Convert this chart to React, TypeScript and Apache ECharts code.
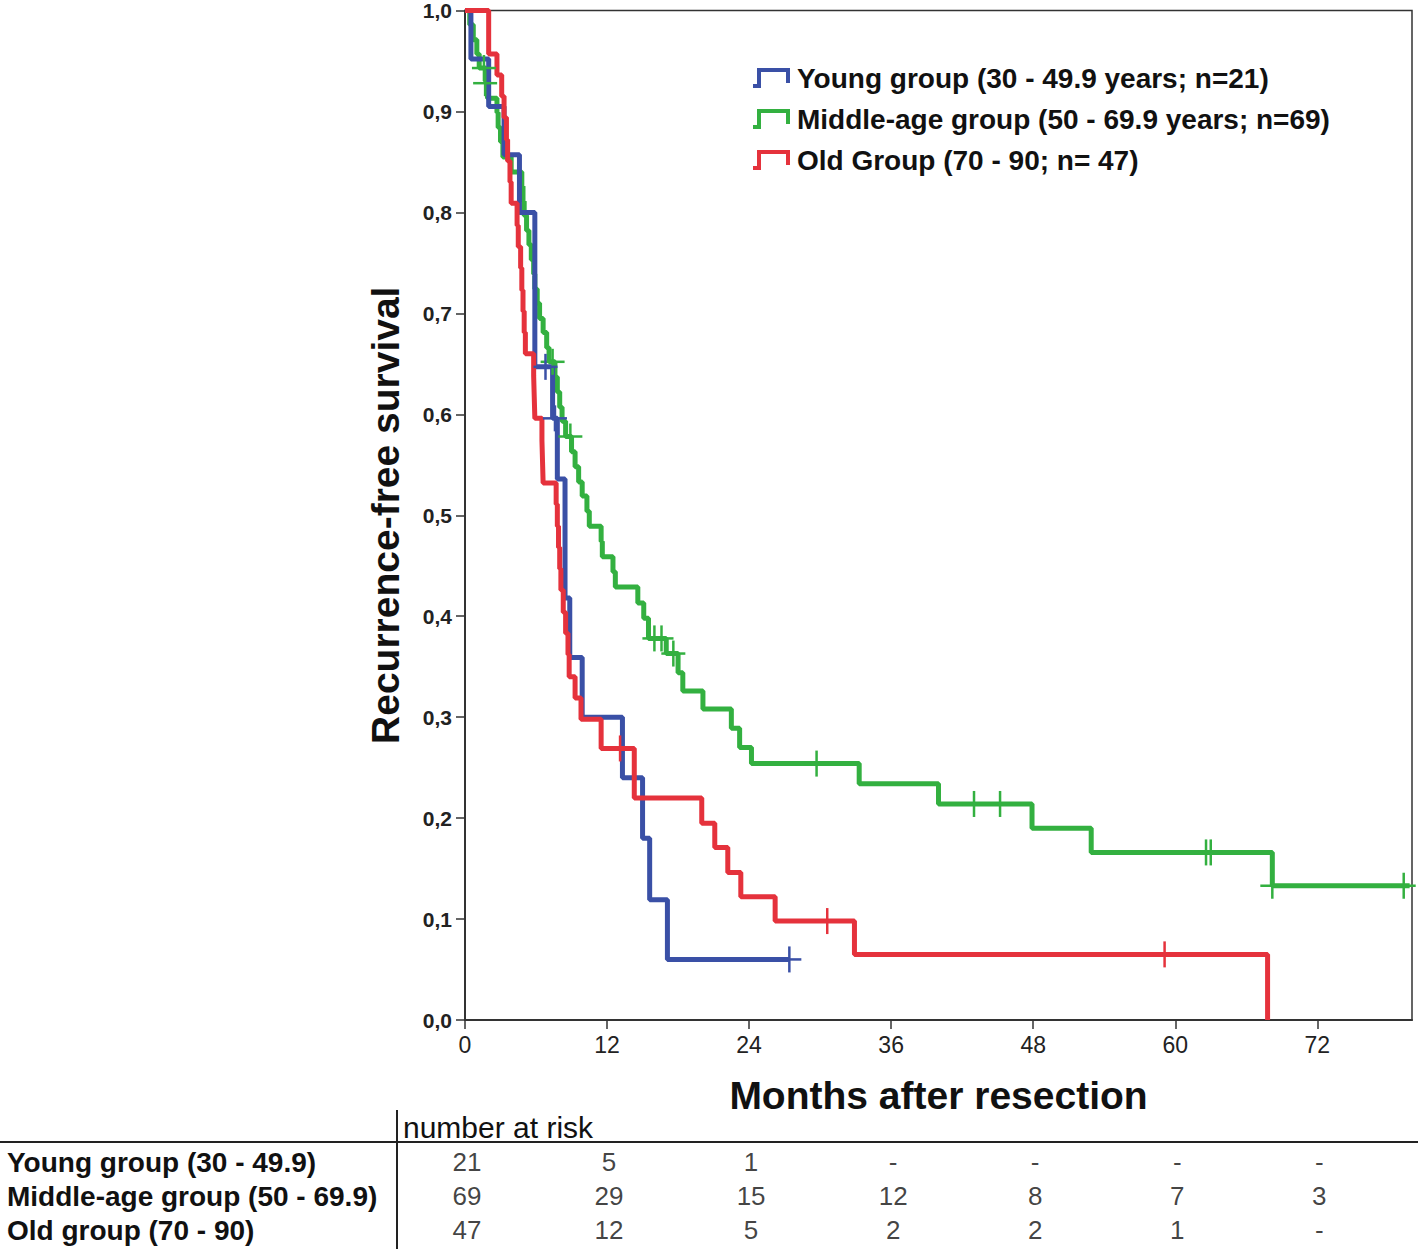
import React, { useEffect, useRef } from "react";
import * as echarts from "echarts";

const FONT = "'Liberation Sans', Arial, sans-serif";

const xTicks = [0, 12, 24, 36, 48, 60, 72];
const yTickLabels = ["0,0", "0,1", "0,2", "0,3", "0,4", "0,5", "0,6", "0,7", "0,8", "0,9", "1,0"];

const groupNames = [
  "Young group (30 - 49.9 years; n=21)",
  "Middle-age group (50 - 69.9 years; n=69)",
  "Old Group (70 - 90; n= 47)",
];
const groupColors = ["#3a50a6", "#33b040", "#e5323c"];

const youngCurve = [
  [0, 1], [0.5, 0.952], [2.0, 0.905], [3.3, 0.857], [4.6, 0.8], [5.9, 0.647],
  [7.4, 0.596], [7.8, 0.536], [8.45, 0.418], [8.85, 0.359], [9.9, 0.3],
  [13.3, 0.24], [15.0, 0.18], [15.6, 0.119], [17.1, 0.06], [27.4, 0.06],
];
const youngCensor = [[6.8, 0.647], [7.6, 0.596], [27.4, 0.06]];

const middleCurve = [
  [0, 1], [0.4, 0.986], [0.7, 0.971], [1.0, 0.957], [1.2, 0.943], [1.75, 0.928],
  [1.9, 0.913], [2.7, 0.899], [2.8, 0.884], [3.0, 0.87], [3.2, 0.855], [3.9, 0.84],
  [4.8, 0.826], [4.9, 0.811], [5.0, 0.797], [5.2, 0.782], [5.4, 0.768], [5.6, 0.753],
  [5.8, 0.739], [5.9, 0.724], [6.1, 0.71], [6.3, 0.695], [6.6, 0.681], [6.9, 0.666],
  [7.1, 0.652], [7.6, 0.637], [7.8, 0.622], [8.0, 0.607], [8.2, 0.593], [8.5, 0.578],
  [9.0, 0.563], [9.3, 0.548], [9.6, 0.533], [9.9, 0.519], [10.3, 0.504], [10.5, 0.489],
  [11.5, 0.474], [11.6, 0.459], [12.5, 0.444], [12.7, 0.429], [14.6, 0.413], [15.1, 0.398],
  [15.5, 0.378], [17.0, 0.363], [18.0, 0.344], [18.4, 0.326], [20.1, 0.308], [22.5, 0.289],
  [23.2, 0.27], [24.2, 0.254], [33.3, 0.234], [40.0, 0.214], [47.9, 0.19], [52.9, 0.166],
  [68.2, 0.133], [79.8, 0.133],
];
const middleCensor = [
  [1.6, 0.943], [1.7, 0.928], [7.4, 0.652], [8.9, 0.578], [16.0, 0.378], [16.6, 0.378],
  [17.6, 0.363], [29.7, 0.254], [43.0, 0.214], [45.2, 0.214], [62.6, 0.166], [63.0, 0.166],
  [68.2, 0.133], [79.3, 0.133],
];

const oldCurve = [
  [0, 1], [2.0, 0.957], [2.7, 0.936], [3.1, 0.915], [3.3, 0.894], [3.5, 0.872], [3.6, 0.851],
  [3.8, 0.83], [3.9, 0.809], [4.4, 0.787], [4.5, 0.766], [4.7, 0.745], [4.8, 0.723],
  [4.9, 0.702], [5.0, 0.681], [5.1, 0.66], [5.8, 0.638], [5.85, 0.617], [5.9, 0.596],
  [6.5, 0.574], [6.55, 0.553], [6.6, 0.532], [7.7, 0.511], [7.8, 0.489], [7.9, 0.468],
  [8.0, 0.447], [8.1, 0.426], [8.3, 0.404], [8.5, 0.383], [8.7, 0.362], [8.8, 0.34],
  [9.3, 0.319], [9.8, 0.298], [11.5, 0.269], [14.3, 0.22], [20.0, 0.195], [21.1, 0.171],
  [22.2, 0.146], [23.3, 0.122], [26.2, 0.098], [32.9, 0.065], [67.8, 0],
];
const oldCensor = [[13.1, 0.269], [30.6, 0.098], [59.1, 0.065]];

const riskRowLabels = ["Young group (30 - 49.9)", "Middle-age group (50 - 69.9)", "Old group (70 - 90)"];
const riskYoung = ["21", "5", "1", "-", "-", "-", "-"];
const riskMiddle = ["69", "29", "15", "12", "8", "7", "3"];
const riskOld = ["47", "12", "5", "2", "2", "1", "-"];

const curves = [youngCurve, middleCurve, oldCurve];
const censors = [youngCensor, middleCensor, oldCensor];
const riskRows = [riskYoung, riskMiddle, riskOld];

export default function App() {
  const ref = useRef<HTMLDivElement>(null);
  useEffect(() => {
    const chart = echarts.init(ref.current!, null, { renderer: "svg" });

    const lineSeries: any[] = [1, 0, 2].map((i) => ({
      type: "line",
      name: groupNames[i],
      step: "end",
      data: curves[i],
      showSymbol: false,
      symbol: "none",
      xAxisIndex: 0,
      yAxisIndex: 0,
      lineStyle: { color: groupColors[i], width: 5 },
      itemStyle: { color: groupColors[i] },
      z: 3,
    }));

    const censorSeries: any[] = [1, 0, 2].map((i) => ({
      type: "custom",
      xAxisIndex: 0,
      yAxisIndex: 0,
      data: censors[i],
      z: 4,
      renderItem: (params: any, api: any) => {
        const p = api.coord([api.value(0), api.value(1)]);
        return {
          type: "group",
          children: [
            { type: "line", shape: { x1: p[0], y1: p[1] - 13, x2: p[0], y2: p[1] + 13 }, style: { stroke: groupColors[i], lineWidth: 2.5 } },
            { type: "line", shape: { x1: p[0] - 12, y1: p[1], x2: p[0] + 12, y2: p[1] }, style: { stroke: groupColors[i], lineWidth: 2.5 } },
          ],
        };
      },
    }));

    const riskData: any[] = [];
    riskRows.forEach((row, r) => {
      row.forEach((v, c) => riskData.push([xTicks[c], r, v]));
    });

    const riskSeries = {
      type: "scatter",
      xAxisIndex: 1,
      yAxisIndex: 1,
      symbolSize: 1,
      itemStyle: { color: "transparent" },
      data: riskData,
      label: {
        show: true,
        position: "inside",
        formatter: (p: any) => p.value[2],
        color: "#111",
        fontFamily: FONT,
        fontSize: 26,
        offset: [2, 0],
      },
    };

    const legendGraphics: any[] = [];
    groupNames.forEach((name, i) => {
      const cy = 78 + i * 41;
      legendGraphics.push({
        type: "polyline",
        shape: { points: [[753, cy + 8], [759, cy + 8], [759, cy - 8], [788, cy - 8], [788, cy + 5]] },
        style: { stroke: groupColors[i], lineWidth: 4, fill: "none" },
      });
      legendGraphics.push({
        type: "text",
        x: 797,
        y: cy,
        style: { text: name, font: `bold 28px ${FONT}`, fill: "#111", verticalAlign: "middle" },
      });
    });

    const tableGraphics: any[] = [
      { type: "line", shape: { x1: 0, y1: 1142, x2: 1418, y2: 1142 }, style: { stroke: "#222", lineWidth: 2 } },
      { type: "line", shape: { x1: 397, y1: 1110, x2: 397, y2: 1249 }, style: { stroke: "#222", lineWidth: 2 } },
      {
        type: "text", x: 403, y: 1127,
        style: { text: "number at risk", font: `30px ${FONT}`, fill: "#111", verticalAlign: "middle" },
      },
      ...riskRowLabels.map((t, r) => ({
        type: "text", x: 7, y: 1162 + r * 34,
        style: { text: t, font: `bold 28px ${FONT}`, fill: "#111", verticalAlign: "middle" },
      })),
    ];

    chart.setOption({
      animation: false,
      backgroundColor: "#fff",
      grid: [
        { left: 465, top: 8, right: 6, height: 1012, show: true, borderColor: "#333", borderWidth: 1.5, backgroundColor: "transparent" },
        { left: 465, top: 1145, right: 6, height: 102 },
      ],
      xAxis: [
        {
          type: "value", gridIndex: 0, min: 0, max: 80, interval: 12,
          name: "Months after resection", nameLocation: "middle", nameGap: 56,
          nameTextStyle: { fontFamily: FONT, fontSize: 39, fontWeight: "bold", color: "#111" },
          axisLine: { show: true, lineStyle: { color: "#333", width: 2 } },
          axisTick: { show: true, length: 9, lineStyle: { color: "#333", width: 1.5 } },
          axisLabel: {
            showMaxLabel: false, fontFamily: FONT, fontSize: 23, color: "#222", margin: 13,
            formatter: (v: number) => (xTicks.includes(v) ? String(v) : ""),
          },
          splitLine: { show: false },
        },
        { type: "value", gridIndex: 1, min: 0, max: 80, show: false },
      ],
      yAxis: [
        {
          type: "value", gridIndex: 0, min: 0, max: 1, interval: 0.1,
          name: "Recurrence-free survival", nameLocation: "middle", nameGap: 60, nameRotate: 90,
          nameTextStyle: { fontFamily: FONT, fontSize: 39, fontWeight: "bold", color: "#111" },
          axisLine: { show: true, lineStyle: { color: "#333", width: 2 } },
          axisTick: { show: true, length: 9, lineStyle: { color: "#333", width: 1.5 } },
          axisLabel: {
            fontFamily: FONT, fontSize: 21, fontWeight: "bold", color: "#222", margin: 13,
            formatter: (v: number) => yTickLabels[Math.round(v * 10)],
          },
          splitLine: { show: false },
        },
        { type: "category", gridIndex: 1, data: ["0", "1", "2"], inverse: true, show: false },
      ],
      series: [...lineSeries, ...censorSeries, riskSeries],
      graphic: [...legendGraphics, ...tableGraphics],
    });

    return () => chart.dispose();
  }, []);

  return (
    <div
      ref={ref}
      style={{ position: "absolute", left: 0, top: 0, width: 1418, height: 1249, background: "#fff" }}
    />
  );
}
